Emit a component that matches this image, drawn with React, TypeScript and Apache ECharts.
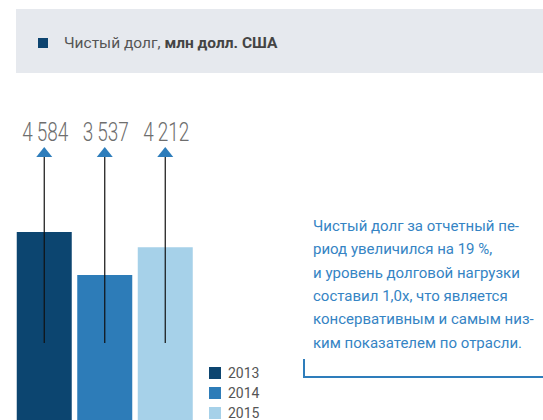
import React, { useEffect, useRef } from "react";
import * as echarts from "echarts";

const years = ["2013", "2014", "2015"];
const debt = [4584, 3537, 4212];
const barColors = ["#0c4570", "#2d7cb8", "#a6d1e9"];
const headerTitle = "Чистый долг, ";
const headerUnit = "млн долл. США";
const noteLines = [
  "Чистый долг за отчетный пе-",
  "риод увеличился на 19 %,",
  "и уровень долговой нагрузки",
  "составил 1,0x, что является",
  "консервативным и самым низ-",
  "ким показателем по отрасли.",
];

function fmt(v: number): string {
  return String(v).replace(/\B(?=(\d{3})+(?!\d))/g, "\u2009");
}

export default function App() {
  const ref = useRef<HTMLDivElement>(null);
  useEffect(() => {
    document.body.style.margin = "0";
    const chart = echarts.init(ref.current!, null, { renderer: "svg" });
    const barSeries = years.map((y, i) => ({
      type: "bar",
      name: y,
      barWidth: 55,
      barGap: "-100%",
      itemStyle: { color: barColors[i] },
      data: debt.map((v, j) => (j === i ? v : "-")),
      z: 2,
    }));
    const arrowSeries = {
      type: "custom",
      name: "arrows",
      z: 5,
      data: debt.map((v, i) => [i, v]),
      renderItem: (params: any, api: any) => {
        const idx = api.value(0);
        const x = api.coord([idx, 0])[0];
        const val = api.value(1);
        return {
          type: "group",
          children: [
            {
              type: "line",
              shape: { x1: x, y1: 343, x2: x, y2: 156 },
              style: { stroke: "#111111", lineWidth: 1.2 },
            },
            {
              type: "polygon",
              shape: { points: [[x - 8, 157], [x + 8, 157], [x, 147]] },
              style: { fill: "#2e7dbb" },
            },
            {
              type: "text",
              x: x + 1,
              y: 132,
              scaleX: 0.76,
              originX: 0,
              originY: 0,
              style: {
                text: fmt(val),
                fill: "#6e6e6e",
                font: '300 25px Roboto, sans-serif',
                textAlign: "center",
                textVerticalAlign: "middle",
              },
            },
          ],
        };
      },
    };
    chart.setOption({
      animation: false,
      grid: { left: 14, width: 181.5, top: 215, bottom: 0, containLabel: false },
      xAxis: {
        type: "category",
        data: years,
        show: false,
        boundaryGap: true,
      },
      yAxis: { type: "value", min: 0, max: 5000, show: false },
      legend: {
        data: years,
        orient: "vertical",
        left: 209,
        top: 366,
        height: 120,
        itemWidth: 12,
        itemHeight: 12,
        itemGap: 6,
        icon: "rect",
        selectedMode: false,
        textStyle: { fontFamily: "Roboto", fontSize: 14, color: "#555555", padding: [0, 0, 0, 2] },
        padding: 0,
      },
      graphic: [
        {
          type: "rect",
          shape: { x: 16, y: 9, width: 527, height: 64 },
          style: { fill: "#e6e9ee" },
          z: -1,
        },
        {
          type: "rect",
          shape: { x: 38, y: 38, width: 10, height: 10 },
          style: { fill: "#0d4470" },
        },
        {
          type: "text",
          x: 64,
          y: 43,
          style: {
            text: `{n|${headerTitle}}{b|${headerUnit}}`,
            verticalAlign: "middle",
            rich: {
              n: { fontFamily: "Roboto", fontSize: 15.5, fill: "#555555", color: "#555555" },
              b: { fontFamily: "Roboto", fontSize: 15.5, fontWeight: "bold", fill: "#444444", color: "#444444" },
            },
          },
        },
        {
          type: "text",
          x: 313,
          y: 214,
          style: {
            text: noteLines.join("\n"),
            fill: "#3584c4",
            font: '15px Roboto, sans-serif',
            lineHeight: 23.4,
          },
        },
        {
          type: "polyline",
          shape: { points: [[304, 359], [304, 377], [543, 377]] },
          style: { stroke: "#2e7dbb", lineWidth: 2, fill: null },
        },
      ],
      series: [...barSeries, arrowSeries],
    });
    return () => chart.dispose();
  }, []);
  return <div ref={ref} style={{ width: 543, height: 420 }} />;
}
